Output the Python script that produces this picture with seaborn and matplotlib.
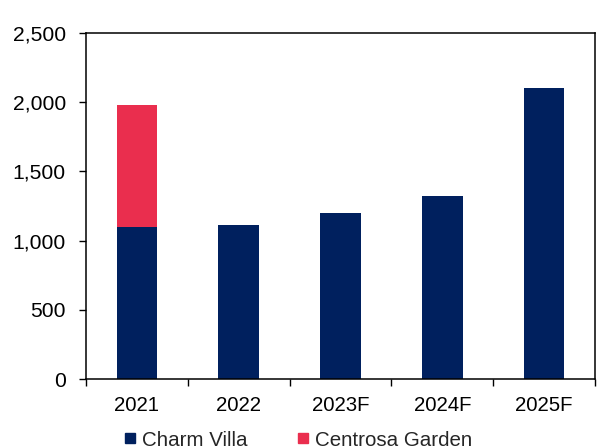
import matplotlib
matplotlib.use("Agg")
import matplotlib.pyplot as plt
from matplotlib.lines import Line2D
from matplotlib.ticker import FuncFormatter, FixedLocator
import seaborn as sns
import pandas as pd

# Units by project and year
years = ["2021", "2022", "2023F", "2024F", "2025F"]
charm_villa = [1100, 1110, 1200, 1320, 2100]
centrosa_garden = [880, 0, 0, 0, 0]

NAVY = "#00205E"
RED = "#EA2E4E"

sns.set_theme(style="white")
plt.rcParams["font.family"] = ["Liberation Sans", "DejaVu Sans"]

df = pd.DataFrame({"year": years, "charm": charm_villa, "centrosa": centrosa_garden})
df["total"] = df["charm"] + df["centrosa"]

fig = plt.figure(figsize=(6.09, 4.48), dpi=100)
ax = fig.add_axes([86 / 609, 1 - 379 / 448, (595 - 86) / 609, (379 - 33) / 448])

# stacked bars: total first (red), Charm Villa drawn over it (navy)
sns.barplot(data=df, x="year", y="total", color=RED, width=0.4, saturation=1,
            linewidth=0, ax=ax)
sns.barplot(data=df, x="year", y="charm", color=NAVY, width=0.4, saturation=1,
            linewidth=0, ax=ax)

ax.set_xlim(-0.5, len(years) - 0.5)
ax.set_ylim(0, 2500)
ax.set_yticks(range(0, 2501, 500))
ax.yaxis.set_major_formatter(FuncFormatter(lambda v, p: f"{int(v):,}"))
ax.set_xlabel("")
ax.set_ylabel("")

for s in ax.spines.values():
    s.set_visible(True)
    s.set_color("black")
    s.set_linewidth(1.1)

ax.tick_params(axis="y", which="major", direction="out", length=5, width=1.0,
               color="black", pad=9.5, labelsize=15.2, labelcolor="black", left=True)
ax.tick_params(axis="x", which="major", length=0, pad=12, labelsize=14.7, labelcolor="black")
ax.xaxis.set_minor_locator(FixedLocator([i - 0.5 for i in range(len(years) + 1)]))
ax.tick_params(axis="x", which="minor", direction="out", length=5, width=1.0,
               color="black", bottom=True)

handles = [
    Line2D([], [], marker="s", linestyle="none", markersize=7.8, color=NAVY),
    Line2D([], [], marker="s", linestyle="none", markersize=7.8, color=RED),
]
fig.legend(handles, ["Charm Villa", "Centrosa Garden"], loc="center",
           bbox_to_anchor=(0.49, 1 - 440 / 448), ncol=2, frameon=False,
           fontsize=14.8, handlelength=0.55, handletextpad=0.3,
           columnspacing=2.45, borderpad=0, borderaxespad=0)

fig.savefig("out.png", dpi=100)
